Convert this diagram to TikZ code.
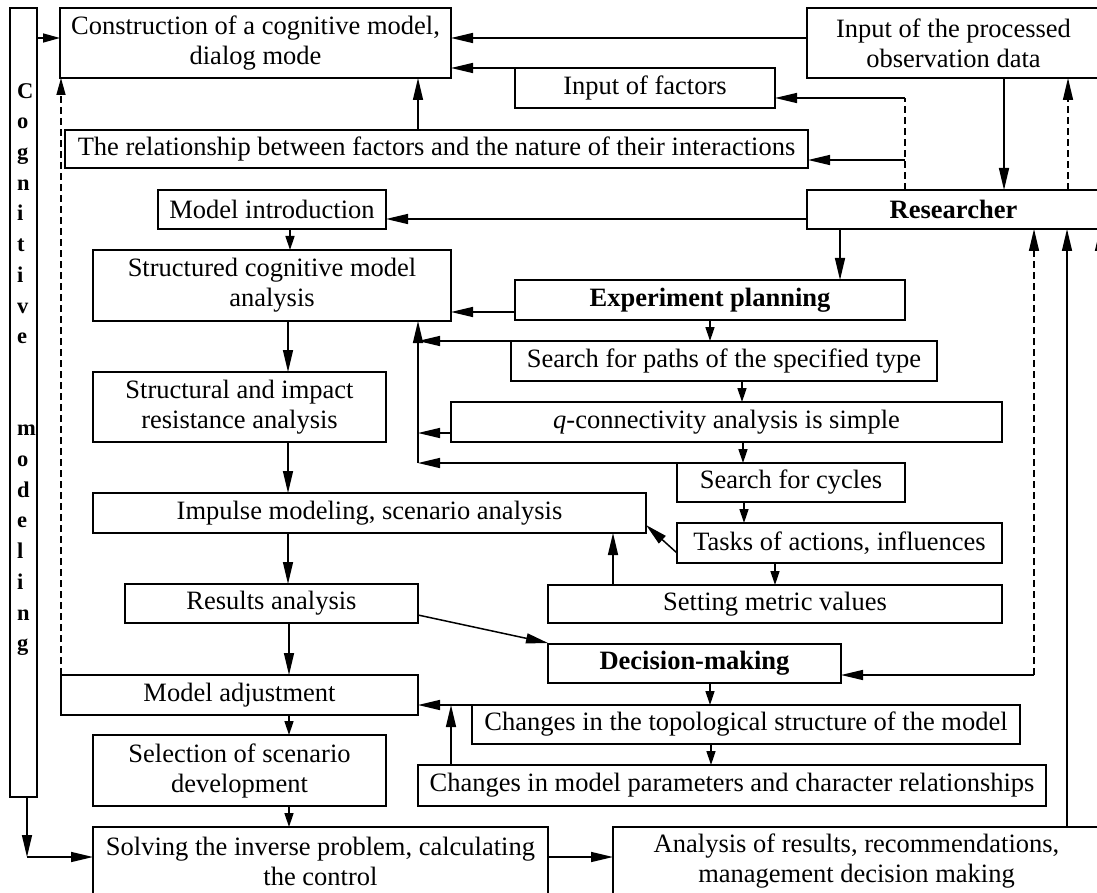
\documentclass[tikz,border=0pt]{standalone}
\usepackage{fontspec}
\setmainfont{Liberation Serif}
\usetikzlibrary{arrows.meta}
\newcommand\bx[7][]{\node[box,#1,minimum width={#5pt-#3pt},minimum height={#6pt-#4pt},anchor=north west] (#2) at (#3,#4) {#7};}
\begin{document}
\begin{tikzpicture}[x=1pt,y=-1pt,
  box/.style={draw,line width=1.5pt,inner sep=0pt,outer sep=0pt,align=center,font=\fontsize{26.5}{30}\selectfont},
  bold/.style={font=\bfseries\fontsize{26.5}{30}\selectfont},
  conn/.style={line width=1.5pt},
  arr/.style={conn,-{Triangle[length=22pt,width=10pt]}},
  sarr/.style={conn,-{Triangle[length=14pt,width=9pt]}},
  marr/.style={conn,-{Triangle[length=17pt,width=9pt]}},
  dashline/.style={dash pattern=on 7pt off 4pt}]
\useasboundingbox (0,0) rectangle (1097,893);
\clip (0,0) rectangle (1097,893);
% boxes
\bx{cog}{10}{8}{37}{797}{}
\node[anchor=north west,inner sep=0pt,align=left,font=\bfseries\fontsize{22.5}{30.7}\selectfont] (cogtxt) at (17,83) {C\\o\\g\\n\\i\\t\\i\\v\\e\\[61.4pt]m\\o\\d\\e\\l\\i\\n\\g};
\bx{cons}{60}{8}{451}{78}{Construction of a cognitive model,\\dialog mode}
\bx{inproc}{807}{8}{1100}{78}{Input of the processed\\observation data}
\bx{infac}{515}{68}{775}{108}{Input of factors}
\bx{rel}{65}{130}{808}{168}{The relationship between factors and the nature of their interactions}
\bx{modint}{158}{190}{386}{229}{Model introduction}
\bx[bold]{res}{807}{190}{1100}{229}{Researcher}
\bx{struct}{93}{250}{451}{321}{Structured cognitive model\\analysis}
\bx[bold]{exp}{515}{280}{905}{320}{Experiment planning}
\bx{paths}{511}{341}{937}{381}{Search for paths of the specified type}
\bx{structimp}{93}{372}{386}{442}{Structural and impact\\resistance analysis}
\bx{qcon}{451}{402}{1002}{442}{\textit{q}-connectivity analysis is simple}
\bx{cyc}{677}{463}{905}{502}{Search for cycles}
\bx{imp}{93}{493}{646}{533}{Impulse modeling, scenario analysis}
\bx{tasks}{677}{523}{1002}{563}{Tasks of actions, influences}
\bx{resan}{125}{584}{418}{623}{Results analysis}
\bx{metric}{548}{585}{1002}{623}{Setting metric values}
\bx[bold]{dec}{548}{644}{841}{683}{Decision-making}
\bx{madj}{61}{675}{418}{715}{Model adjustment}
\bx{topo}{472}{705}{1020}{744}{Changes in the topological structure of the model}
\bx{params}{418}{765}{1046}{806}{Changes in model parameters and character relationships}
\bx{sel}{93}{735}{386}{806}{Selection of scenario\\development}
\bx{solve}{93}{827}{548}{895}{Solving the inverse problem, calculating\\the control}
\bx{anal}{613}{827}{1100}{895}{Analysis of results, recommendations,\\management decision making}
% coordinates
\coordinate (jA) at (905,98);
\coordinate (jB) at (905,160);
\coordinate (busb) at (418,463);
\coordinate (dd) at (1034,675);
\coordinate (corner) at (27,857);
% connectors top
\draw[marr] (cog.east |- 0,38) -- (cons.west |- 0,38);
\draw[arr] (inproc.west |- 0,38) -- (cons.east |- 0,38);
\draw[arr] (infac.north west) -- (cons.east |- infac.north west);
\draw[arr] (rel.north -| 418,0) -- (cons.south -| 418,0);
\draw[conn,dashline] (res.north -| jA) -- (jA);
\draw[arr] (jA) -- (infac.east |- jA);
\draw[arr] (jB) -- (rel.east |- jB);
\draw[arr] (inproc.south -| 1004,0) -- (res.north -| 1004,0);
\draw[arr,dashline] (res.north -| 1068,0) -- (inproc.south -| 1068,0);
\draw[arr] (res.west |- 0,219) -- (modint.east |- 0,219);
\draw[arr] (res.south -| 840,0) -- (exp.north -| 840,0);
\draw[sarr] (modint.south -| 290,0) -- (struct.north -| 290,0);
\draw[arr] (exp.west |- 0,312) -- (struct.east |- 0,312);
\draw[sarr] (exp.south -| 710,0) -- (paths.north -| 710,0);
% left bus
\draw[arr] (paths.north west) -- (paths.north west -| busb);
\draw[arr] (qcon.west |- 0,433) -- (busb |- 0,433);
\draw[arr] (cyc.north west) -- (busb);
\draw[arr] (busb) -- (struct.south -| busb);
% right column chain
\draw[sarr] (paths.south -| 742,0) -- (qcon.north -| 742,0);
\draw[sarr] (qcon.south -| 743,0) -- (cyc.north -| 743,0);
\draw[sarr] (cyc.south -| 744,0) -- (tasks.north -| 744,0);
\draw[arr] (tasks.west |- 0,553) -- (imp.east |- 0,525);
\draw[sarr] (tasks.south -| 775,0) -- (metric.north -| 775,0);
\draw[arr] (metric.north -| 613,0) -- (imp.south -| 613,0);
% left column chain
\draw[arr] (struct.south -| 288,0) -- (structimp.north -| 288,0);
\draw[arr] (structimp.south -| 288,0) -- (imp.north -| 288,0);
\draw[arr] (imp.south -| 288,0) -- (resan.north -| 288,0);
\draw[arr] (resan.south -| 289,0) -- (madj.north -| 289,0);
\draw[sarr] (madj.south -| 289,0) -- (sel.north -| 289,0);
\draw[sarr] (sel.south -| 289,0) -- (solve.north -| 289,0);
\draw[arr] (resan.east |- 0,615) -- (dec.west |- 0,643);
% decision area
\draw[arr,dashline] (dd) -- (res.south -| dd);
\draw[arr] (dd) -- (dec.east |- dd);
\draw[arr] (anal.north -| 1067,0) -- (res.south -| 1067,0);
\draw[arr] (anal.north -| 1100,0) -- (res.south -| 1100,0);
\draw[sarr] (dec.south -| 710,0) -- (topo.north -| 710,0);
\draw[arr] (topo.north west) -- (madj.east |- topo.north west);
\draw[sarr] (topo.south -| 711,0) -- (params.north -| 711,0);
\draw[arr] (params.north -| 451,0) -- (topo.north west -| 451,0);
% bottom left
\draw[arr] (cog.south -| corner) -- (corner);
\draw[arr] (corner) -- (solve.west |- corner);
\draw[arr] (solve.east |- 0,857) -- (anal.west |- 0,857);
\draw[marr,dashline] (madj.north west) -- (cons.south west -| madj.north west);
\end{tikzpicture}
\end{document}
